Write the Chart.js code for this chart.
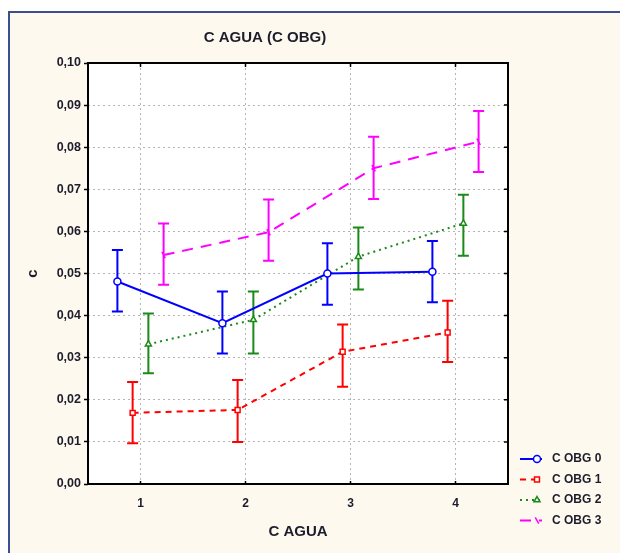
<!DOCTYPE html>
<html>
<head>
<meta charset="utf-8">
<script src="https://cdn.jsdelivr.net/npm/chart.js@4.4.1/dist/chart.umd.min.js"></script>
<style>
    html, body { margin: 0; padding: 0; background: #fff; }
    #frame {
        position: absolute; left: 8px; top: 11px; width: 612px; height: 542px;
        background: #fef9ee; border-left: 2px solid #3b4f8c; border-top: 2px solid #3b4f8c;
        box-sizing: border-box;
    }
    #wrap { position: absolute; left: 0; top: 0; width: 620px; height: 553px; }
</style>
</head>
<body>
<div id="frame"></div>
<div id="wrap"><canvas id="myChart" width="620" height="553"></canvas></div>
<script>
const categories = [1, 2, 3, 4];
const seriesNames = ["C OBG 0", "C OBG 1", "C OBG 2", "C OBG 3"];

const obg0Mean = [0.0481, 0.0382, 0.0500, 0.0504];
const obg0Low = [0.0410, 0.0310, 0.0426, 0.0432];
const obg0High = [0.0556, 0.0457, 0.0572, 0.0577];

const obg1Mean = [0.0169, 0.0176, 0.0314, 0.0360];
const obg1Low = [0.0097, 0.0100, 0.0231, 0.0290];
const obg1High = [0.0242, 0.0247, 0.0379, 0.0435];

const obg2Mean = [0.0332, 0.0390, 0.0540, 0.0619];
const obg2Low = [0.0263, 0.0310, 0.0462, 0.0542];
const obg2High = [0.0405, 0.0457, 0.0609, 0.0687];

const obg3Mean = [0.0544, 0.0598, 0.0750, 0.0813];
const obg3Low = [0.0473, 0.0530, 0.0677, 0.0741];
const obg3High = [0.0619, 0.0676, 0.0825, 0.0886];

const yMin = 0;
const yMax = 0.1;
const yStep = 0.01;

const SANS = "'Liberation Sans', Arial, sans-serif";
const TEXT = "#1c1c2c";

function points(means, offset) {
    return categories.map((c, i) => ({ x: c + offset, y: means[i] }));
}

function series(i, means, low, high, color, dash, style, offset) {
    return {
        label: seriesNames[i],
        data: points(means, offset),
        errLow: low,
        errHigh: high,
        borderColor: color,
        borderWidth: 2,
        borderDash: dash,
        pointStyle: style,
        pointRadius: 3.5,
        pointBorderWidth: 1.5,
        pointBackgroundColor: "#fff",
        pointBorderColor: color,
        pointRotation: style === "line" ? 60 : 0,
        tension: 0,
    };
}

const plotBackground = {
    id: "plotBackground",
    beforeDraw: (chart) => {
        const { left, top, width, height } = chart.chartArea;
        chart.ctx.save();
        chart.ctx.fillStyle = "#fff";
        chart.ctx.fillRect(left, top, width, height);
        chart.ctx.restore();
    },
};

const errorBars = {
    id: "errorBars",
    beforeDatasetsDraw: (chart) => {
        const ctx = chart.ctx;
        const y = chart.scales.y;
        chart.data.datasets.forEach((ds, d) => {
            const meta = chart.getDatasetMeta(d);
            ctx.save();
            ctx.strokeStyle = ds.borderColor;
            ctx.lineWidth = 2;
            ctx.setLineDash([]);
            meta.data.forEach((pt, i) => {
                const top = y.getPixelForValue(ds.errHigh[i]);
                const bot = y.getPixelForValue(ds.errLow[i]);
                ctx.beginPath();
                ctx.moveTo(pt.x, top);
                ctx.lineTo(pt.x, bot);
                ctx.moveTo(pt.x - 5.5, top);
                ctx.lineTo(pt.x + 5.5, top);
                ctx.moveTo(pt.x - 5.5, bot);
                ctx.lineTo(pt.x + 5.5, bot);
                ctx.stroke();
            });
            ctx.restore();
        });
    },
};

// box round the plot, small inner ticks, and the legend under the right corner
const frameAndLegend = {
    id: "frameAndLegend",
    afterDraw: (chart) => {
        const ctx = chart.ctx;
        const { left, top, right, bottom } = chart.chartArea;
        const xs = chart.scales.x;
        const ys = chart.scales.y;
        ctx.save();
        ctx.strokeStyle = "#000";
        ctx.lineWidth = 2;
        ctx.setLineDash([]);
        ctx.strokeRect(left, top, right - left, bottom - top);
        ctx.lineWidth = 1.5;
        ctx.beginPath();
        ys.ticks.forEach((t) => {
            const py = ys.getPixelForValue(t.value);
            ctx.moveTo(right - 4, py);
            ctx.lineTo(right, py);
        });
        categories.forEach((c) => {
            const px = xs.getPixelForValue(c);
            ctx.moveTo(px, top);
            ctx.lineTo(px, top + 4);
            ctx.moveTo(px, bottom);
            ctx.lineTo(px, bottom - 3);
        });
        ctx.stroke();

        const lx = right + 12;
        chart.data.datasets.forEach((ds, i) => {
            const ly = bottom - 25 + i * 20.5;
            ctx.strokeStyle = ds.borderColor;
            ctx.lineWidth = 2;
            ctx.setLineDash(ds.borderDash);
            ctx.beginPath();
            ctx.moveTo(lx, ly);
            ctx.lineTo(lx + 22, ly);
            ctx.stroke();
            ctx.setLineDash([]);
            ctx.fillStyle = "#fff";
            ctx.lineWidth = 1.5;
            Chart.helpers.drawPoint(ctx, {
                pointStyle: ds.pointStyle,
                radius: 3.5,
                rotation: ds.pointRotation,
                borderWidth: 1.5,
            }, lx + 17, ly);
            ctx.fillStyle = TEXT;
            ctx.font = "bold 12px " + SANS;
            ctx.textBaseline = "middle";
            ctx.textAlign = "left";
            ctx.fillText(ds.label, lx + 32, ly);
        });
        ctx.restore();
    },
};

const ctx = document.getElementById("myChart").getContext("2d");
const chart = new Chart(ctx, {
    type: "line",
    data: {
        datasets: [
            series(0, obg0Mean, obg0Low, obg0High, "#0000ff", [], "circle", -0.22),
            series(1, obg1Mean, obg1Low, obg1High, "#ff0000", [6, 5], "rect", -0.075),
            series(2, obg2Mean, obg2Low, obg2High, "#1a8a1a", [2, 4], "triangle", 0.075),
            series(3, obg3Mean, obg3Low, obg3High, "#ff00ff", [11, 8], "line", 0.22),
        ],
    },
    options: {
        responsive: false,
        animation: false,
        layout: {
            padding: { left: 22, right: 112, top: 16, bottom: 0 },
        },
        plugins: {
            legend: { display: false },
            tooltip: { enabled: false },
            title: {
                display: true,
                text: "C AGUA (C OBG)",
                color: TEXT,
                font: { family: SANS, size: 15, weight: "bold" },
                padding: { top: 13, bottom: 16 },
            },
        },
        scales: {
            x: {
                type: "linear",
                min: 0.5,
                max: 4.5,
                afterBuildTicks: (scale) => {
                    scale.ticks = categories.map((v) => ({ value: v }));
                },
                afterFit: (scale) => {
                    scale.height = 69;
                },
                grid: {
                    color: "#b5b5b5",
                    lineWidth: 1,
                    drawTicks: false,
                },
                border: { display: false, dash: [2, 3] },
                ticks: {
                    color: TEXT,
                    padding: 12,
                    font: { family: SANS, size: 12, weight: "bold" },
                },
                title: {
                    display: true,
                    text: "C AGUA",
                    color: TEXT,
                    font: { family: SANS, size: 15, weight: "bold" },
                    padding: { top: 0, bottom: 12 },
                },
            },
            y: {
                min: yMin,
                max: yMax,
                afterFit: (scale) => {
                    scale.width = 66;
                },
                grid: {
                    color: "#b5b5b5",
                    lineWidth: 1,
                    tickColor: "#000",
                    tickLength: 4,
                    tickWidth: 1.5,
                },
                border: { display: false, dash: [2, 3] },
                ticks: {
                    stepSize: yStep,
                    color: TEXT,
                    padding: 3,
                    font: { family: SANS, size: 12.5, weight: "bold" },
                    callback: (v) => v.toFixed(2).replace(".", ","),
                },
                title: {
                    display: true,
                    text: "c",
                    color: TEXT,
                    font: { family: SANS, size: 15, weight: "bold" },
                    padding: { top: 2, bottom: 0 },
                },
            },
        },
    },
    plugins: [plotBackground, errorBars, frameAndLegend],
});
</script>
</body>
</html>
